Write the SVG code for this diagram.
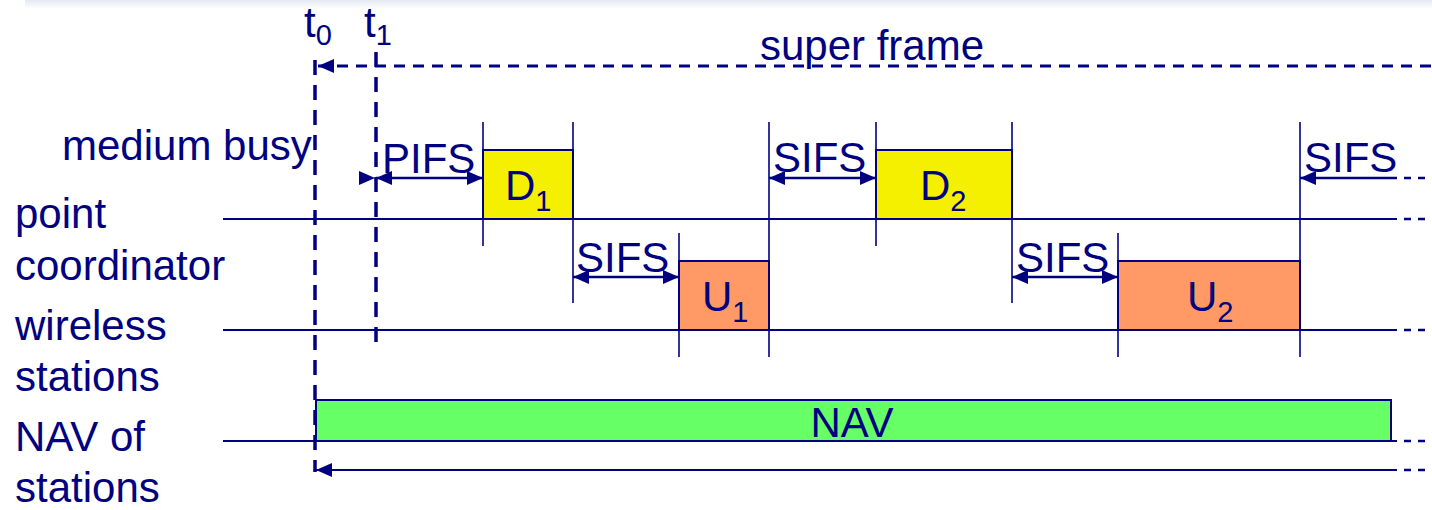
<svg xmlns="http://www.w3.org/2000/svg" width="1432" height="510" viewBox="0 0 1432 510">
<defs>
<linearGradient id="topband" x1="0" y1="0" x2="0" y2="1">
<stop offset="0" stop-color="#e4eaf2"/>
<stop offset="1" stop-color="#ffffff"/>
</linearGradient>
<marker id="ah" viewBox="0 0 16 14" refX="16" refY="7" markerWidth="16" markerHeight="14" markerUnits="userSpaceOnUse" orient="auto-start-reverse">
<path d="M0,0 L16,7 L0,14 z" fill="#000080"/>
</marker>
<style>
text{font-family:"Liberation Sans",Arial,sans-serif;fill:#000080;font-size:42px}
.sub{font-size:29px}
.ln{stroke:#000080;stroke-width:2;fill:none}
.tk{stroke:#000080;stroke-width:1.6;fill:none}
.dsh{stroke:#000080;stroke-width:2.5;fill:none;stroke-dasharray:7 7}
.tl{stroke:#000080;stroke-width:3.5;fill:none;stroke-dasharray:15 10}
.sf{stroke:#000080;stroke-width:3;fill:none;stroke-dasharray:11 8}
.box{stroke:#000080;stroke-width:2}
.arr{stroke:#000080;stroke-width:2.5;fill:none}
</style>
</defs>
<rect x="25" y="0" width="1407" height="9" fill="url(#topband)"/>

<g id="labels">
<text x="62" y="160">medium busy</text>
<text x="15" y="228">point</text>
<text x="15" y="280">coordinator</text>
<text x="15" y="340">wireless</text>
<text x="15" y="391">stations</text>
<text x="15" y="451">NAV of</text>
<text x="15" y="502">stations</text>
<text x="304" y="37">t<tspan class="sub" dy="8">0</tspan></text>
<text x="364" y="37">t<tspan class="sub" dy="8">1</tspan></text>
<text x="872" y="60" text-anchor="middle">super frame</text>
</g>

<g id="connectors">
<!-- time axes -->
<line class="ln" x1="223" y1="219" x2="1397" y2="219"/>
<line class="dsh" x1="1404" y1="219" x2="1432" y2="219"/>
<line class="ln" x1="223" y1="330" x2="1397" y2="330"/>
<line class="dsh" x1="1404" y1="330" x2="1432" y2="330"/>
<line class="ln" x1="223" y1="441" x2="1397" y2="441"/>
<line class="dsh" x1="1404" y1="441" x2="1432" y2="441"/>
<line class="ln" x1="316" y1="470" x2="1397" y2="470" marker-start="url(#ah)"/>
<line class="dsh" x1="1404" y1="470" x2="1432" y2="470"/>
<!-- t0 / t1 -->
<line class="tl" x1="315" y1="60" x2="315" y2="472"/>
<line class="tl" x1="376" y1="52" x2="376" y2="345"/>
<!-- super frame -->
<line class="sf" x1="318" y1="66" x2="1432" y2="66" marker-start="url(#ah)"/>
<!-- ticks -->
<line class="tk" x1="483" y1="122" x2="483" y2="246"/>
<line class="tk" x1="573" y1="122" x2="573" y2="303"/>
<line class="tk" x1="679" y1="233" x2="679" y2="357"/>
<line class="tk" x1="769" y1="122" x2="769" y2="357"/>
<line class="tk" x1="876" y1="122" x2="876" y2="246"/>
<line class="tk" x1="1012" y1="122" x2="1012" y2="303"/>
<line class="tk" x1="1118" y1="233" x2="1118" y2="357"/>
<line class="tk" x1="1300" y1="122" x2="1300" y2="357"/>
<!-- PIFS -->
<path d="M359,171 L375,178 L359,185 z" fill="#000080"/>
<line class="arr" x1="376" y1="178" x2="483" y2="178" marker-start="url(#ah)" marker-end="url(#ah)"/>
<!-- SIFS arrows -->
<line class="arr" x1="573" y1="277" x2="679" y2="277" marker-start="url(#ah)" marker-end="url(#ah)"/>
<line class="arr" x1="769" y1="178" x2="876" y2="178" marker-start="url(#ah)" marker-end="url(#ah)"/>
<line class="arr" x1="1012" y1="277" x2="1118" y2="277" marker-start="url(#ah)" marker-end="url(#ah)"/>
<line class="arr" x1="1300" y1="178" x2="1397" y2="178" marker-start="url(#ah)"/>
<line class="dsh" x1="1404" y1="178" x2="1432" y2="178"/>
<text x="382" y="173">PIFS</text>
<text x="576" y="272">SIFS</text>
<text x="773" y="172">SIFS</text>
<text x="1016" y="272">SIFS</text>
<text x="1304" y="172">SIFS</text>
</g>

<g id="D1">
<rect class="box" x="483" y="150" width="90" height="69" fill="#f5f000"/>
<text x="505" y="200">D<tspan class="sub" dy="11">1</tspan></text>
</g>
<g id="U1">
<rect class="box" x="679" y="261" width="90" height="69" fill="#ff9966"/>
<text x="702" y="311">U<tspan class="sub" dy="11">1</tspan></text>
</g>
<g id="D2">
<rect class="box" x="876" y="150" width="136" height="69" fill="#f5f000"/>
<text x="920" y="200">D<tspan class="sub" dy="11">2</tspan></text>
</g>
<g id="U2">
<rect class="box" x="1118" y="261" width="182" height="69" fill="#ff9966"/>
<text x="1187" y="311">U<tspan class="sub" dy="11">2</tspan></text>
</g>
<g id="NAV">
<rect class="box" x="316" y="400" width="1075" height="41" fill="#66ff66"/>
<text x="852" y="437" text-anchor="middle">NAV</text>
</g>
</svg>
